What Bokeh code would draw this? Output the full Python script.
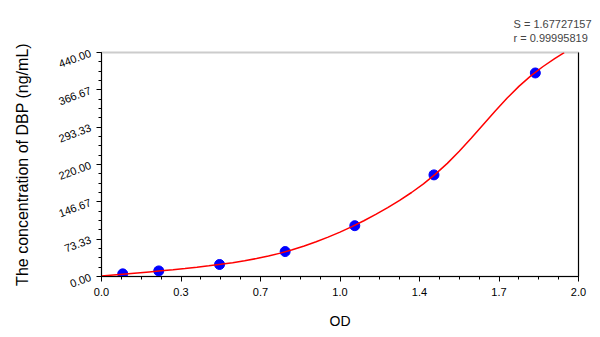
from bokeh.plotting import figure
from bokeh.models import (FixedTicker, LinearAxis, Title, Range1d, ColumnDataSource)
from bokeh.embed import file_html
from bokeh.resources import INLINE

# measured standards (OD vs concentration)
od = [0.089, 0.240, 0.495, 0.770, 1.062, 1.394, 1.819]
conc = [5.2, 11.0, 23.6, 49.0, 99.8, 199.6, 399.8]

# fitted curve
curve_od = [0.0, 0.05, 0.1, 0.15, 0.2, 0.25, 0.3, 0.35, 0.4, 0.45, 0.5, 0.55,
            0.6, 0.65, 0.7, 0.75, 0.8, 0.85, 0.9, 0.95, 1.0, 1.05, 1.1, 1.15,
            1.2, 1.25, 1.3, 1.35, 1.4, 1.45, 1.5, 1.55, 1.6, 1.65, 1.7, 1.75,
            1.8, 1.85, 1.9, 1.94]
curve_conc = [1.0, 3.0, 5.0, 7.01, 9.05, 11.15, 13.35, 15.69, 18.2, 20.93,
              23.9, 27.23, 31.0, 35.31, 40.25, 45.94, 52.5, 59.94, 68.25,
              77.38, 87.25, 97.94, 109.5, 121.94, 135.25, 149.56, 165.0,
              182.0, 201.0, 222.25, 246.0, 271.5, 298.0, 324.5, 350.0,
              373.5, 394.0, 412.0, 428.0, 439.6]

x_ticks = [0.0, 1/3, 2/3, 1.0, 4/3, 5/3, 2.0]
x_tick_labels = ["0.0", "0.3", "0.7", "1.0", "1.4", "1.7", "2.0"]
y_ticks = [0.0, 73.33, 146.67, 220.0, 293.33, 366.67, 440.0]
y_tick_labels = ["0.00", "73.33", "146.67", "220.00", "293.33", "366.67", "440.00"]

stat_S = "S = 1.67727157"
stat_r = "r = 0.99995819"

FONT = "Liberation Sans"

p = figure(width=600, height=337, output_backend="svg", toolbar_location=None,
           x_range=Range1d(0, 2), y_range=Range1d(0, 440),
           min_border_left=101, min_border_right=22, min_border_top=52,
           min_border_bottom=61)
p.background_fill_color = "white"
p.border_fill_color = "white"
p.outline_line_color = "#cccccc"
p.outline_line_width = 2
p.xgrid.visible = False
p.ygrid.visible = False

x_minor = [i / 12 for i in range(25)]
y_minor = [i * 440 / 24 for i in range(25)]

xa = p.xaxis[0]
xa.ticker = FixedTicker(ticks=x_ticks, minor_ticks=x_minor)
xa.major_label_overrides = {t: l for t, l in zip(x_ticks, x_tick_labels)}
ya = p.yaxis[0]
ya.ticker = FixedTicker(ticks=y_ticks, minor_ticks=y_minor)
ya.major_label_overrides = {t: l for t, l in zip(y_ticks, y_tick_labels)}
ya.major_label_orientation = 0.36

for ax in (xa, ya):
    ax.axis_line_color = "black"
    ax.major_tick_line_color = "black"
    ax.minor_tick_line_color = "black"
    ax.major_tick_in = 0
    ax.major_tick_out = 5
    ax.minor_tick_in = 0
    ax.minor_tick_out = 3
    ax.major_label_text_font = FONT
    ax.major_label_text_font_size = "11px"
    ax.major_label_text_color = "black"
    ax.axis_label_text_font = FONT
    ax.axis_label_text_font_style = "normal"
    ax.axis_label_text_color = "black"

xa.axis_label = "OD"
xa.axis_label_text_font_size = "14px"
xa.major_label_standoff = 6
xa.axis_label_standoff = 14
ya.axis_label = "The concentration of DBP (ng/mL)"
ya.axis_label_text_font_size = "16px"
ya.major_label_standoff = 6
ya.axis_label_standoff = 22

ra = LinearAxis(ticker=FixedTicker(ticks=[]), axis_line_color="black",
                major_tick_line_color=None, minor_tick_line_color=None,
                major_label_text_font_size="0px")
p.add_layout(ra, "right")

p.add_layout(Title(text=stat_S + "\n" + stat_r, align="right", offset=-13,
                   text_font=FONT, text_font_size="11px",
                   text_font_style="normal", text_line_height=1.15,
                   standoff=17), "above")

src = ColumnDataSource(dict(x=od, y=conc))
p.scatter("x", "y", source=src, size=10, fill_color="#0000ff",
          line_color="#0000ff")
p.line(curve_od, curve_conc, line_color="red", line_width=1.5)

open("out.html", "w").write(file_html(p, INLINE))
